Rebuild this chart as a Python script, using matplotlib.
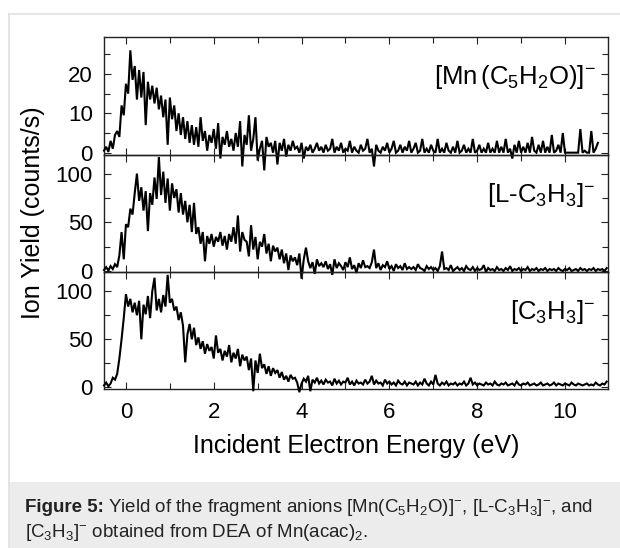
import numpy as np
import matplotlib
matplotlib.use('Agg')
import matplotlib.pyplot as plt
from matplotlib.patches import Rectangle
from matplotlib.lines import Line2D
from matplotlib.ticker import MultipleLocator

plt.rcParams['font.family'] = 'Liberation Sans'
plt.rcParams['mathtext.fontset'] = 'custom'
plt.rcParams['mathtext.rm'] = 'Liberation Sans'
plt.rcParams['mathtext.it'] = 'Liberation Sans:italic'
plt.rcParams['mathtext.bf'] = 'Liberation Sans:bold'

# energy axis sampling (eV)
e_start = -0.5
e_step = 0.05

# [Mn(C5H2O)]- yield, counts/s
mn_yield = [
    0.5, 1.5, 0.2, 3.0, 1.0, 4.5, 5.5, 4.0, 12.0, 9.5, 17.5, 15.0, 26.0, 18.5, 22.0, 13.5, 21.0, 14.0, 20.5, 7.0,
    18.0, 13.5, 17.0, 12.5, 16.5, 11.0, 14.5, 9.0, 13.5, 2.0, 14.0, 8.5, 12.0, 5.5, 10.0, 4.5, 9.0, 3.5, 8.0, 2.5,
    7.0, 2.0, 6.5, 1.5, 9.0, 3.0, 5.5, 0.5, 4.5, 2.5, 6.0, 1.0, 7.5, -1.5, 4.0, 2.0, 5.5, 1.5, 3.5, 0.5,
    5.0, 1.5, 8.0, -3.5, 4.5, 2.0, 9.5, 0.5, 3.5, 9.0, -2.0, 1.0, 3.0, -4.5, 4.0, 1.5, 2.5, 0.0, 3.0, -3.0,
    2.5, 0.5, 3.5, -1.0, 2.0, 0.5, 3.0, 1.0, 1.5, 0.0, 2.5, -1.5, 1.5, 0.5, 2.0, 0.0, 1.0, 2.5, 0.5, 1.5,
    0.0, 2.0, 0.5, 1.0, 3.5, 0.0, 1.5, 0.5, 2.5, 0.0, 1.0, 0.5, 3.0, 0.0, 1.5, 0.5, 0.0, 2.0, 0.5, 1.0,
    3.5, 0.0, 1.0, -3.5, 2.0, 0.5, 0.0, 1.5, 0.5, 2.5, 0.0, 1.0, 3.0, 0.0, 0.5, 2.0, 0.0, 1.5, 0.5, 3.0,
    0.0, 1.0, 2.5, 0.0, 0.5, 3.5, 0.0, 1.0, 0.0, 2.0, 0.5, 0.0, 3.5, 0.0, 1.0, 0.0, 2.5, 0.5, 0.0, 1.5,
    0.0, 3.0, 0.0, 0.5, 2.0, 0.0, 1.0, 0.0, 3.5, 0.0, 0.5, 2.0, 0.0, 1.0, 0.0, 2.5, 0.0, 1.0, 0.0, 3.0,
    0.0, 1.5, 0.0, 3.5, 0.0, 1.0, -1.5, 2.0, 0.0, 3.0, 0.0, 1.5, 0.0, 2.5, 0.0, 4.0, 0.5, 0.0, 2.0, 0.0,
    3.0, 0.0, 1.5, 0.0, 4.5, 0.0, 0.5, 2.0, 0.0, 5.0, 0.0, 0.0, 0.0, 0.0, 0.0, 0.0, 0.0, 6.0, 0.0, 0.5,
    0.0, 0.0, 5.5, 0.0, 1.0, 2.5,
]

# [L-C3H3]- yield, counts/s
lc3h3_yield = [
    1.0, 4.0, 0.5, 5.0, 2.0, 7.0, 4.0, 16.0, 40.0, 12.0, 48.0, 45.0, 64.0, 58.0, 80.0, 100.0, 72.0, 86.0, 62.0, 82.0,
    41.0, 80.0, 68.0, 96.0, 74.0, 117.0, 78.0, 102.0, 70.0, 95.0, 62.0, 90.0, 75.0, 84.0, 60.0, 80.0, 58.0, 72.0, 50.0, 68.0,
    40.0, 70.0, 38.0, 45.0, 28.0, 40.0, 10.0, 36.0, 28.0, 38.0, 25.0, 35.0, 30.0, 40.0, 26.0, 36.0, 22.0, 38.0, 30.0, 45.0,
    28.0, 57.0, 20.0, 40.0, 32.0, 30.0, 15.0, 47.0, 22.0, 35.0, 12.0, 30.0, 25.0, 38.0, 18.0, 28.0, 10.0, 26.0, 20.0, 24.0,
    12.0, 22.0, 8.0, 18.0, 1.0, 16.0, 10.0, 14.0, 6.0, 18.0, -8.0, 12.0, 24.0, 10.0, 3.0, 9.0, -3.0, 12.0, 5.0, 8.0,
    4.0, 10.0, 2.0, 7.0, -4.0, 12.0, 3.0, 8.0, 5.0, 1.0, 9.0, 4.0, 14.0, 2.0, 6.0, -2.0, 8.0, 3.0, 11.0, 4.0,
    5.0, 3.0, 9.0, 22.0, 3.0, 8.0, 1.0, 6.0, 4.0, 10.0, 2.0, 5.0, 0.0, 7.0, 3.0, 5.0, 1.0, 8.0, 2.0, 4.0,
    2.0, 4.0, 1.0, 7.0, 3.0, 2.0, 0.0, 5.0, 2.0, 4.0, 1.0, 3.0, 0.0, 5.0, 20.0, 2.0, 3.0, 1.0, 6.0, 0.0,
    2.0, 4.0, 1.0, 3.0, 0.0, 5.0, 2.0, 1.0, 4.0, 0.0, 3.0, 1.0, 2.0, 6.0, -1.0, 3.0, 1.0, 2.0, 0.0, 4.0,
    1.0, 2.0, 0.0, 3.0, 1.0, 5.0, 0.0, 2.0, 1.0, 3.0, 0.0, 2.0, 1.0, 4.0, 0.0, 2.0, 1.0, 3.0, 0.0, 2.0,
    1.0, 3.0, 0.0, 2.0, 1.0, 2.0, 0.0, 3.0, 1.0, 0.0, 2.0, 1.0, 3.0, 0.0, 1.0, 2.0, 0.0, 3.0, 1.0, 2.0,
    0.0, 2.0, 1.0, 3.0, 0.0, 2.0, 1.0, 2.0, 0.0, 3.0,
]

# [C3H3]- yield, counts/s
c3h3_yield = [
    2.0, 5.0, 1.0, 4.0, 10.0, 8.0, 14.0, 30.0, 50.0, 72.0, 97.0, 84.0, 92.0, 78.0, 88.0, 75.0, 90.0, 50.0, 86.0, 76.0,
    95.0, 72.0, 100.0, 114.0, 80.0, 92.0, 78.0, 96.0, 84.0, 117.0, 88.0, 92.0, 80.0, 84.0, 70.0, 78.0, 64.0, 26.0, 55.0, 66.0,
    50.0, 62.0, 44.0, 52.0, 40.0, 48.0, 35.0, 45.0, 38.0, 42.0, 30.0, 54.0, 36.0, 40.0, 28.0, 38.0, 32.0, 44.0, 26.0, 36.0,
    30.0, 40.0, 22.0, 34.0, 28.0, 32.0, 18.0, 30.0, -4.0, 28.0, 15.0, 35.0, 20.0, 24.0, 14.0, 22.0, 12.0, 20.0, 15.0, 18.0,
    10.0, 16.0, 8.0, 12.0, 6.0, 13.0, 9.0, 10.0, 5.0, -5.0, 4.0, 9.0, 6.0, 12.0, -4.0, 8.0, 5.0, 10.0, 4.0, 7.0,
    3.0, 8.0, 5.0, 6.0, 2.0, 9.0, 4.0, 7.0, 3.0, 6.0, 5.0, 10.0, 3.0, 6.0, 2.0, 7.0, 4.0, 5.0, 3.0, 8.0,
    4.0, 6.0, 12.0, 3.0, 7.0, 4.0, 5.0, 2.0, 8.0, 4.0, 6.0, 3.0, 5.0, 2.0, 7.0, 4.0, 3.0, 6.0, 2.0, 5.0,
    4.0, 3.0, 6.0, 2.0, 5.0, 3.0, 9.0, 4.0, 2.0, 6.0, 3.0, 13.0, 4.0, 2.0, 5.0, 3.0, 6.0, 2.0, 4.0, 3.0,
    5.0, 2.0, 4.0, 3.0, 6.0, 2.0, 4.0, 10.0, 3.0, 5.0, 2.0, 4.0, 3.0, 2.0, 5.0, 3.0, 4.0, 2.0, 6.0, 3.0,
    2.0, 4.0, 3.0, 5.0, 2.0, 3.0, 4.0, 2.0, 6.0, 3.0, 2.0, 4.0, 3.0, 5.0, 2.0, 3.0, 4.0, 2.0, 3.0, 5.0,
    2.0, 3.0, 4.0, 2.0, 3.0, 5.0, 2.0, 4.0, 3.0, 2.0, 4.0, 3.0, 2.0, 5.0, 3.0, 2.0, 4.0, 3.0, 2.0, 3.0,
    4.0, 2.0, 3.0, 2.0, 5.0, 3.0, 2.0, 4.0, 3.0, 6.0,
]

labels = [r'[Mn$\,$(C$_5$H$_2$O)]$^{-}$', r'[L-C$_3$H$_3$]$^{-}$', r'[C$_3$H$_3$]$^{-}$']
series = [mn_yield, lc3h3_yield, c3h3_yield]
ylims = [(-0.5, 29.3), (-1.0, 119.5), (-2.0, 120.0)]
ymajor = [10, 50, 50]
yminor = [5, 25, 25]

fig = plt.figure(figsize=(6.2, 5.48), dpi=100)

# page frame and caption box
fig.add_artist(Line2D([9/620, 1], [1 - 14/548, 1 - 14/548], color='#e0e0e0', lw=1.2))
fig.add_artist(Line2D([9/620, 9/620], [0, 1 - 14/548], color='#e0e0e0', lw=1.2))
fig.add_artist(Rectangle((9/620, 0), 1 - 9/620, (548 - 481.7)/548,
                         facecolor='#ececec', edgecolor='none'))

left = 104/620
width = (608 - 104)/620
h = 117.33/548
bottoms = [0.2896 + 2*h, 0.2896 + h, 0.2896]

axes = []
for i in range(3):
    ax = fig.add_axes([left, bottoms[i], width, h])
    y = np.array(series[i])
    energy = e_start + e_step*np.arange(len(y))
    ax.plot(energy, y, color='black', lw=1.5, clip_on=False, zorder=3,
            solid_joinstyle='miter')
    ax.set_xlim(-0.5, 10.98)
    ax.set_ylim(*ylims[i])
    ax.xaxis.set_major_locator(MultipleLocator(2))
    ax.xaxis.set_minor_locator(MultipleLocator(1))
    ax.yaxis.set_major_locator(MultipleLocator(ymajor[i]))
    ax.yaxis.set_minor_locator(MultipleLocator(yminor[i]))
    ax.tick_params(which='both', direction='in', top=True, right=True,
                   width=0.8, color='#222222', labelsize=16)
    ax.tick_params(which='major', length=5)
    ax.tick_params(which='minor', length=4)
    ax.tick_params(axis='y', pad=8)
    ax.tick_params(axis='x', pad=9)
    for s in ax.spines.values():
        s.set_color('#222222')
        s.set_linewidth(1.0)
    if i < 2:
        ax.tick_params(labelbottom=False)
    ax.text(0.975, 0.60, labels[i], transform=ax.transAxes, ha='right',
            va='baseline', fontsize=18.5)
    ax.patch.set_alpha(0)
    axes.append(ax)

fig.text(0.053, 1 - 213/548, 'Ion Yield (counts/s)', rotation=90,
         ha='center', va='center', fontsize=18)
fig.text(356/620, 1 - 446/548, 'Incident Electron Energy (eV)',
         ha='center', va='center', fontsize=18)

# caption: bold lead-in, then the rest placed right after it
cap_size = 13.5
cap_x = 25/620
cap_y1 = 1 - 511.7/548
cap_y2 = 1 - 536.7/548
lead = fig.text(cap_x, cap_y1, 'Figure 5:', fontweight='bold', ha='left',
                va='baseline', fontsize=cap_size, color='#222222')
renderer = fig.canvas.get_renderer()
bb = lead.get_window_extent(renderer=renderer)
fig.text(bb.x1/620 + 4/620, cap_y1,
         r'Yield of the fragment anions [Mn(C$_5$H$_2$O)]$^{-}$, '
         r'[L-C$_3$H$_3$]$^{-}$, and',
         ha='left', va='baseline', fontsize=cap_size, color='#222222')
fig.text(cap_x, cap_y2,
         r'[C$_3$H$_3$]$^{-}$ obtained from DEA of Mn(acac)$_2$.',
         ha='left', va='baseline', fontsize=cap_size, color='#222222')

plt.savefig('out.png', dpi=100)
